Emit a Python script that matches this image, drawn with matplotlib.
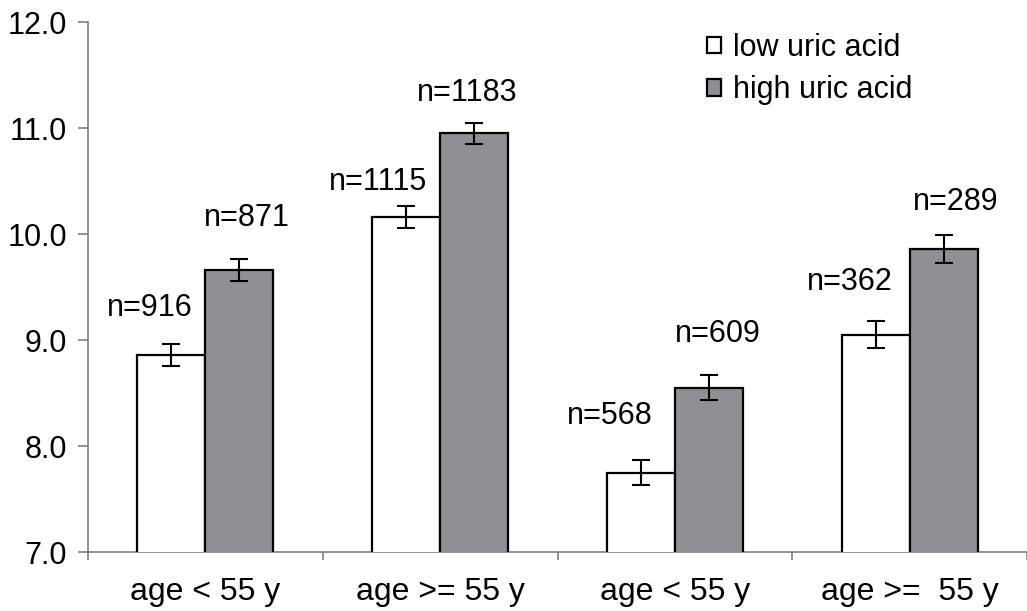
import numpy as np
import matplotlib.pyplot as plt

plt.rcParams['font.family'] = ['Liberation Sans', 'DejaVu Sans']

# data
grupos = ['age < 55 y', 'age >= 55 y', 'age < 55 y', 'age >=  55 y']
bajo = [8.86, 10.16, 7.75, 9.05]
bajo_err = [0.105, 0.10, 0.12, 0.125]
alto = [9.66, 10.95, 8.55, 9.86]
alto_err = [0.10, 0.10, 0.12, 0.13]
n_bajo = ['n=916', 'n=1115', 'n=568', 'n=362']
n_alto = ['n=871', 'n=1183', 'n=609', 'n=289']

gris = '#8f9094'
fs = 22

fig = plt.figure(figsize=(10.27, 6.11), dpi=100)
ax = fig.add_axes([88/1027, 1-552/611, 1-88/1027, 530/611])

x = np.arange(len(grupos))
w = 0.29
kw = dict(edgecolor='black', linewidth=1.6, zorder=3)
b1 = ax.bar(x - w/2, bajo, w, color='white', label='low uric acid', **kw)
b2 = ax.bar(x + w/2, alto, w, color=gris, label='high uric acid', **kw)
ax.errorbar(x - w/2, bajo, yerr=bajo_err, fmt='none', ecolor='black',
            elinewidth=1.5, capsize=6.5, capthick=1.5, zorder=4)
ax.errorbar(x + w/2, alto, yerr=alto_err, fmt='none', ecolor='black',
            elinewidth=1.5, capsize=6.5, capthick=1.5, zorder=4)

# etiquetas n=
dx_b = [-0.09, -0.12, -0.13, -0.11]
dy_b = [0.44, 0.33, 0.53, 0.50]
dx_a = [0.03, -0.03, 0.04, 0.05]
dy_a = [0.49, 0.38, 0.51, 0.44]
for i in range(len(grupos)):
    ax.text(x[i] - w/2 + dx_b[i], bajo[i] + dy_b[i], n_bajo[i],
            ha='center', va='center', fontsize=fs)
    ax.text(x[i] + w/2 + dx_a[i], alto[i] + dy_a[i], n_alto[i],
            ha='center', va='center', fontsize=fs)

ax.set_ylim(7, 12)
ax.set_xlim(-0.5, len(grupos) - 0.5)
ax.set_yticks(np.arange(7, 12.5, 1.0))
ax.set_yticklabels(['%.1f' % v for v in np.arange(7, 12.5, 1.0)], fontsize=fs)
ax.set_xticks(x)
ax.set_xticklabels(grupos, fontsize=23)
ax.set_xticks(np.arange(-0.5, len(grupos), 1.0), minor=True)
ax.tick_params(axis='x', which='major', length=0, pad=18)
ax.tick_params(axis='x', which='minor', length=6, color='#808080', width=1.2)
ax.tick_params(axis='y', length=7, color='#808080', width=1.2, pad=8)

for s in ['top', 'right']:
    ax.spines[s].set_visible(False)
for s in ['left', 'bottom']:
    ax.spines[s].set_color('#808080')
    ax.spines[s].set_linewidth(1.2)

fig.legend(handles=[b1, b2], loc='upper left', bbox_to_anchor=(707/1027, 1-33/611),
           frameon=False, fontsize=fs, borderpad=0, borderaxespad=0,
           handlelength=0.45, handleheight=0.45, handletextpad=0.4, labelspacing=0.4)

fig.savefig('out.png', dpi=100)
